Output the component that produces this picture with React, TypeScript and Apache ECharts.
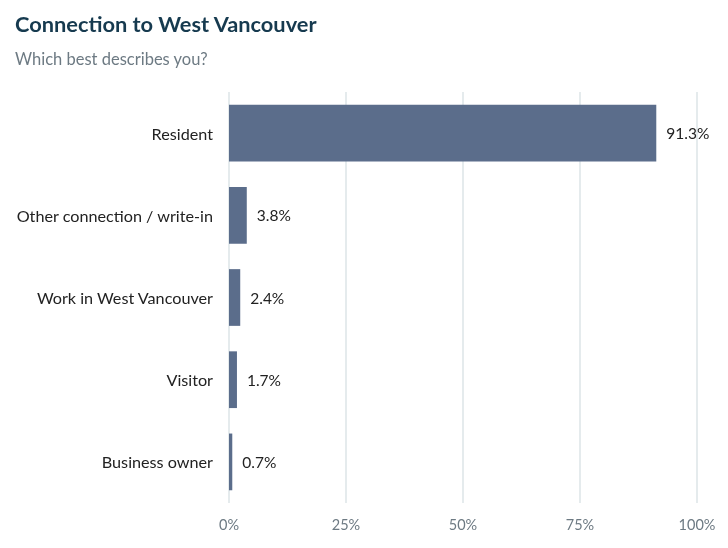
import React, { useEffect, useRef } from "react";
import * as echarts from "echarts";

const categories = ["Resident", "Other connection / write-in", "Work in West Vancouver", "Visitor", "Business owner"];
const values = [91.3, 3.8, 2.4, 1.7, 0.7];
const xTicks = [0, 25, 50, 75, 100];

export default function App() {
  const ref = useRef<HTMLDivElement>(null);
  useEffect(() => {
    const chart = echarts.init(ref.current!, null, { renderer: "svg" });
    chart.setOption({
      animation: false,
      textStyle: { fontFamily: "Lato" },
      title: {
        text: "Connection to West Vancouver",
        subtext: "Which best describes you?",
        left: 10,
        top: 7,
        itemGap: 16,
        textStyle: { fontFamily: "Lato", fontSize: 21.8, fontWeight: "bold", color: "#163a4f" },
        subtextStyle: { fontFamily: "Lato", fontSize: 16.5, color: "#6d7a83" },
      },
      grid: { left: 229, right: 31, top: 92, bottom: 45, containLabel: false },
      xAxis: {
        type: "value",
        min: xTicks[0],
        max: xTicks[xTicks.length - 1],
        interval: 25,
        axisLine: { show: false },
        axisTick: { show: false },
        splitLine: { lineStyle: { color: "#dde4e7", width: 1.5 } },
        axisLabel: { formatter: "{value}%", color: "#6d7a83", fontSize: 14.5, margin: 14, fontFamily: "Lato" },
      },
      yAxis: {
        type: "category",
        data: categories,
        inverse: true,
        axisLine: { show: false },
        axisTick: { show: false },
        axisLabel: { color: "#222", fontSize: 16.2, margin: 16, fontFamily: "Lato" },
      },
      series: [
        {
          type: "bar",
          data: values,
          barWidth: "69%",
          itemStyle: { color: "#5b6d8b" },
          label: {
            show: true,
            position: "right",
            distance: 10,
            formatter: (p: any) => p.value.toFixed(1) + "%",
            color: "#222",
            fontSize: 15.5,
            fontFamily: "Lato",
          },
        },
      ],
    });
    return () => chart.dispose();
  }, []);
  return <div ref={ref} style={{ position: "fixed", left: 0, top: 0, width: 728, height: 548 }} />;
}
